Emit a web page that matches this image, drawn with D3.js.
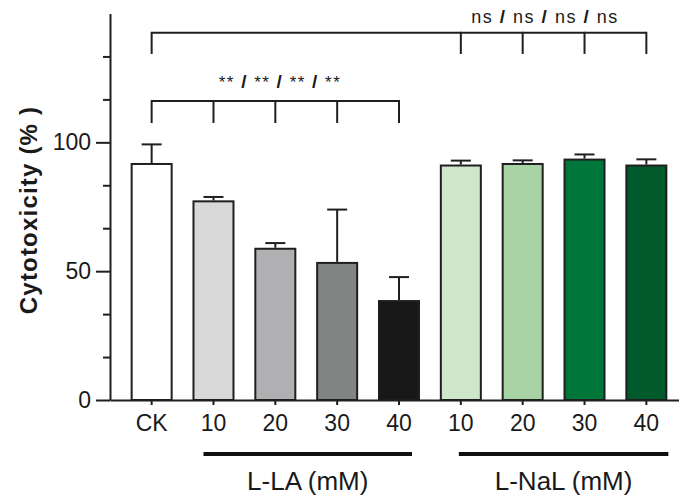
<html>
<head>
<script src="https://cdn.jsdelivr.net/npm/d3@7"></script>
<style>
  body { margin: 0; background: #fff; }
  text { font-family: "Liberation Sans", Arial, sans-serif; fill: #1a1a1a; }
</style>
</head>
<body>
<div id="chart"></div>
<script>
// bar keys (unique) and what is printed under each bar
var keys = ["CK", "LA10", "LA20", "LA30", "LA40", "NaL10", "NaL20", "NaL30", "NaL40"];
var tickLabels = ["CK", "10", "20", "30", "40", "10", "20", "30", "40"];
// cytotoxicity (%) mean and upper error (SD)
var means = [91.6, 77.1, 58.7, 53.2, 38.4, 91.0, 91.6, 93.3, 91.0];
var errors = [7.6, 1.7, 2.2, 20.7, 9.3, 1.9, 1.4, 2.0, 2.4];
var fills = ["#ffffff", "#d9d9d9", "#b0b0b2", "#828483", "#181818",
             "#cfe6ca", "#a8d3a5", "#00773a", "#005a2c"];
var yMajor = [0, 50, 100];
var yMinor = [50/3, 100/3, 200/3, 250/3, 350/3, 400/3];

var width = 679, height = 496;
var ink = "#1f1f1f";

var svg = d3.select("#chart").append("svg")
  .attr("width", width)
  .attr("height", height);

var x = d3.scaleBand()
  .domain(keys)
  .range([110, 688])
  .paddingInner(0.353)
  .paddingOuter(0.35);

var y = d3.scaleLinear()
  .domain([0, 150])
  .range([400, 13.5]);

function cx(i) { return x(keys[i]) + x.bandwidth() / 2; }

// bars
svg.selectAll("rect.bar")
  .data(keys)
  .enter()
  .append("rect")
    .attr("class", "bar")
    .attr("x", function(d) { return x(d); })
    .attr("y", function(d, i) { return y(means[i]); })
    .attr("width", x.bandwidth())
    .attr("height", function(d, i) { return y(0) - y(means[i]); })
    .style("fill", function(d, i) { return fills[i]; })
    .style("stroke", ink)
    .style("stroke-width", 2);

// error bars (upper only)
svg.selectAll("line.err")
  .data(keys)
  .enter()
  .append("line")
    .attr("class", "err")
    .attr("x1", function(d, i) { return cx(i); })
    .attr("x2", function(d, i) { return cx(i); })
    .attr("y1", function(d, i) { return y(means[i]) - 1; })
    .attr("y2", function(d, i) { return y(means[i] + errors[i]); })
    .style("stroke", ink)
    .style("stroke-width", 2);

svg.selectAll("line.cap")
  .data(keys)
  .enter()
  .append("line")
    .attr("class", "cap")
    .attr("x1", function(d, i) { return cx(i) - 10; })
    .attr("x2", function(d, i) { return cx(i) + 10; })
    .attr("y1", function(d, i) { return y(means[i] + errors[i]); })
    .attr("y2", function(d, i) { return y(means[i] + errors[i]); })
    .style("stroke", ink)
    .style("stroke-width", 2);

// y axis: labelled major ticks plus short minor ticks
var yAxis = svg.append("g")
  .attr("transform", "translate(110,0)")
  .call(d3.axisLeft(y).tickValues(yMajor).tickSize(14).tickPadding(5).tickSizeOuter(0));
yAxis.select(".domain").style("stroke", ink).style("stroke-width", 2);
yAxis.selectAll(".tick line").style("stroke", ink).style("stroke-width", 2);
yAxis.selectAll(".tick text")
  .style("font-size", "23px")
  .style("font-family", "Liberation Sans, Arial, sans-serif")
  .style("fill", "#1a1a1a");

var yMinorAxis = svg.append("g")
  .attr("transform", "translate(110,0)")
  .call(d3.axisLeft(y).tickValues(yMinor).tickSize(7).tickFormat("").tickSizeOuter(0));
yMinorAxis.select(".domain").remove();
yMinorAxis.selectAll(".tick line").style("stroke", ink).style("stroke-width", 2);

// x axis
var xAxis = svg.append("g")
  .attr("transform", "translate(0,400)")
  .call(d3.axisBottom(x).tickSize(5).tickPadding(10).tickSizeOuter(0)
    .tickFormat(function(d, i) { return tickLabels[i]; }));
xAxis.select(".domain").style("stroke", ink).style("stroke-width", 2);
xAxis.selectAll(".tick line").style("stroke", ink).style("stroke-width", 2);
xAxis.selectAll(".tick text")
  .style("font-size", "23px")
  .style("font-family", "Liberation Sans, Arial, sans-serif")
  .style("fill", "#1a1a1a");

// y title
svg.append("text")
  .attr("transform", "translate(37,210) rotate(-90)")
  .attr("text-anchor", "middle")
  .style("font-size", "24px")
  .style("font-weight", "bold")
  .style("letter-spacing", "1.2px")
  .text("Cytotoxicity (% )");

// significance brackets
function bracket(from, to, level, drop) {
  var yTop = y(level), yBot = y(level - drop);
  svg.append("line")
    .attr("x1", cx(from)).attr("x2", cx(to[to.length - 1]))
    .attr("y1", yTop).attr("y2", yTop)
    .style("stroke", ink).style("stroke-width", 2);
  [from].concat(to).forEach(function(i) {
    svg.append("line")
      .attr("x1", cx(i)).attr("x2", cx(i))
      .attr("y1", yTop - 1).attr("y2", yBot)
      .style("stroke", ink).style("stroke-width", 2);
  });
}
bracket(0, [5, 6, 7, 8], 142.5, 8.2);
bracket(0, [1, 2, 3, 4], 116.0, 8.5);

function sigLabel(xc, level, mark, size) {
  var t = svg.append("text")
    .attr("x", xc)
    .attr("y", y(level))
    .attr("text-anchor", "middle")
    .style("font-size", size + "px")
    .style("letter-spacing", "1.5px");
  [0, 1, 2, 3].forEach(function(k) {
    if (k > 0) {
      t.append("tspan").text(" ");
      t.append("tspan").style("font-weight", "bold").style("font-size", "19px").text("/");
      t.append("tspan").text(" ");
    }
    t.append("tspan").text(mark);
  });
}
sigLabel(545, 146.5, "ns", 18);
sigLabel(280, 121.0, "**", 17);

// treatment group underlines and names
var groupLines = [
  { name: "L-LA (mM)", first: 1, last: 4, pre: 10, post: 13 },
  { name: "L-NaL (mM)", first: 5, last: 8, pre: 2, post: 22 }
];
groupLines.forEach(function(g) {
  var x1 = cx(g.first) - g.pre, x2 = cx(g.last) + g.post;
  svg.append("line")
    .attr("x1", x1).attr("x2", x2)
    .attr("y1", 454).attr("y2", 454)
    .style("stroke", "#111")
    .style("stroke-width", 4);
  svg.append("text")
    .attr("x", (x1 + x2) / 2)
    .attr("y", 490)
    .attr("text-anchor", "middle")
    .style("font-size", "26px")
    .text(g.name);
});
</script>
</body>
</html>
